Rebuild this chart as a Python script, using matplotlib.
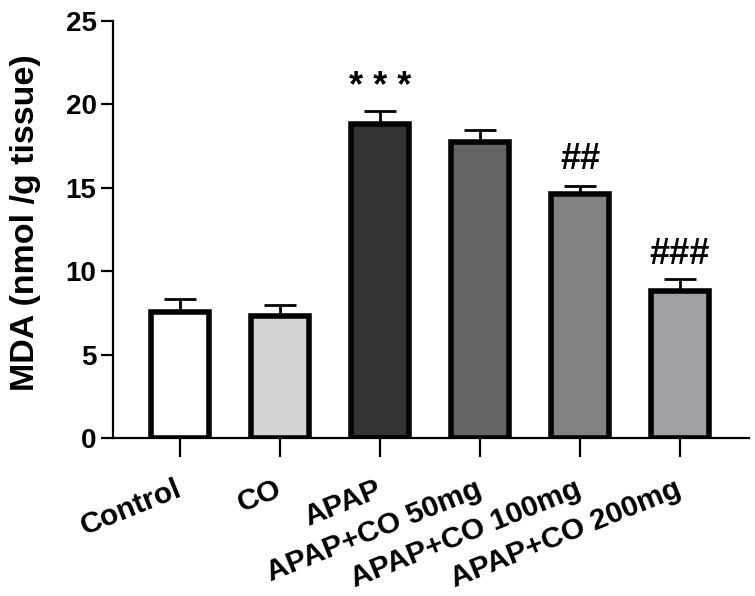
import matplotlib.pyplot as plt
import numpy as np

plt.rcParams['font.family'] = ['Liberation Sans', 'DejaVu Sans']
plt.rcParams['font.weight'] = 'bold'

groups = ['Control', 'CO', 'APAP', 'APAP+CO 50mg', 'APAP+CO 100mg', 'APAP+CO 200mg']
mda = [7.55, 7.3, 18.8, 17.75, 14.65, 8.8]
sem = [0.78, 0.68, 0.8, 0.72, 0.48, 0.75]
colors = ['#ffffff', '#d4d4d4', '#333333', '#646464', '#828282', '#a0a0a5']
marks = ['', '', '* * *', '', '##', '###']
mark_y = [0, 0, 21.0, 0, 16.7, 11.0]

fig = plt.figure(figsize=(7.55, 5.96), dpi=100)
ax = fig.add_axes([0.150, 0.265, 0.842, 0.700])

x = np.arange(len(groups))
ax.bar(x, mda, 0.58, color=colors, edgecolor='black', linewidth=4, zorder=2)
ax.errorbar(x, mda, yerr=[np.zeros(len(sem)), sem], fmt='none', ecolor='black',
            elinewidth=2, capsize=11.5, capthick=2, zorder=1)

# significance marks
for i in range(len(groups)):
    if marks[i]:
        ax.text(x[i], mark_y[i], marks[i], ha='center', va='center',
                fontsize=26, fontweight='bold')

ax.set_xlim(-0.67, 5.69)
ax.set_ylim(0, 25)
ax.set_yticks([0, 5, 10, 15, 20, 25])
ax.set_xticks(x)
ax.set_xticklabels(groups, rotation=22, ha='right', va='center',
                   rotation_mode='anchor', fontsize=21.5)
ax.tick_params(axis='y', labelsize=20, length=9, width=1.6, pad=3)
ax.tick_params(axis='x', length=14, width=1.6, pad=22)
ax.set_ylabel('MDA (nmol /g tissue)', fontsize=24.5, fontweight='bold')
ax.yaxis.set_label_coords(-0.113, 0.516)

for s in ['top', 'right']:
    ax.spines[s].set_visible(False)
for s in ['left', 'bottom']:
    ax.spines[s].set_linewidth(1.6)

fig.savefig('out.png', dpi=100)
